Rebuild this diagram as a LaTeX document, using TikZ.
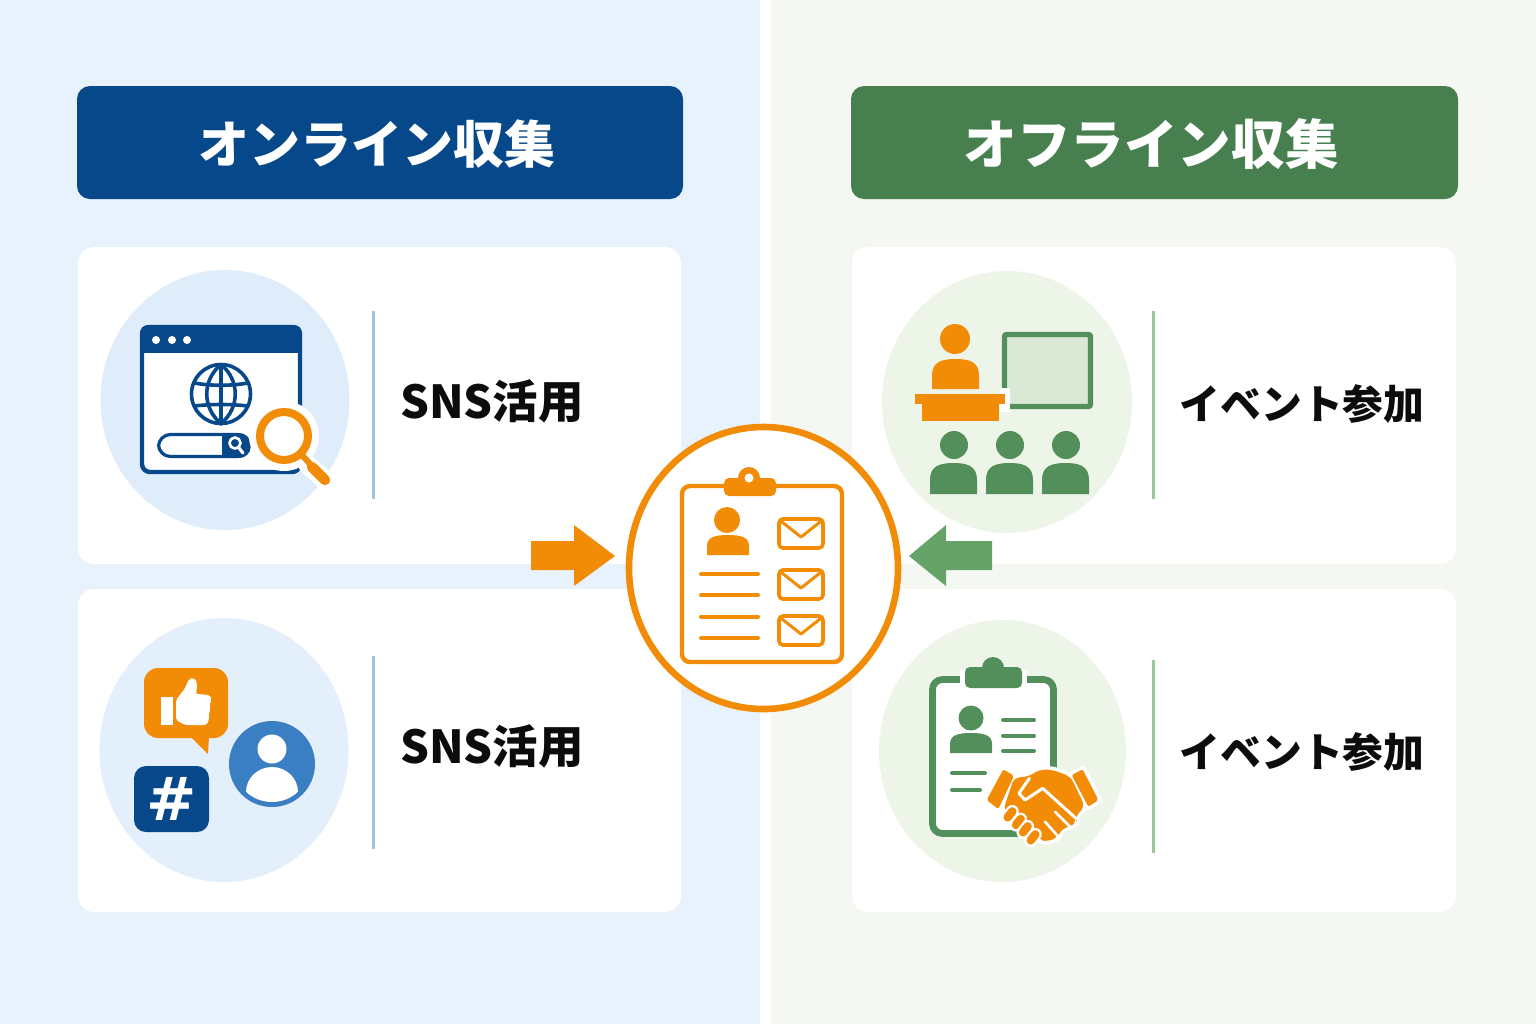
\documentclass[tikz,border=0pt]{standalone}
\usepackage{fontspec}
\setmainfont{Noto Sans CJK JP}
\newfontfamily\hashfont{DejaVu Sans}
\definecolor{panelL}{HTML}{E7F2FC}
\definecolor{panelR}{HTML}{F4F7F2}
\definecolor{navy}{HTML}{07488B}
\definecolor{forest}{HTML}{47804E}
\definecolor{orange1}{HTML}{F28C06}
\definecolor{iconG}{HTML}{528F5A}
\definecolor{arrowG}{HTML}{65A368}
\definecolor{midblue}{HTML}{3A7FC4}
\definecolor{discL}{HTML}{DFEDFA}
\definecolor{discL2}{HTML}{E3F0FB}
\definecolor{discR}{HTML}{EDF4E8}
\definecolor{board}{HTML}{DAE8D6}
\definecolor{ruleL}{HTML}{9DC3E6}
\definecolor{ruleR}{HTML}{9CC79D}
\definecolor{ink}{HTML}{0C0C0C}
\newcommand\dome[5]{\fill[#1] ({#2},{#5}) -- ({#2},{#4+0.55*(#5-#4)}) .. controls ({#2},{#4+0.1*(#5-#4)}) and ({#2+0.2*(#3-#2)},{#4}) .. ({0.5*(#2+#3)},{#4}) .. controls ({#3-0.2*(#3-#2)},{#4}) and ({#3},{#4+0.1*(#5-#4)}) .. ({#3},{#4+0.55*(#5-#4)}) -- ({#3},{#5}) -- cycle;}
\newcommand\envelope[2]{%
  \draw[envstroke] (779,{#1+2}) rectangle (823,{#2-2});
  \draw[envflap] (782,{#1+5}) -- (801,{#1+20}) -- (820,{#1+5});}
\tikzset{
  cardbox/.style={fill=white,rounded corners=8pt},
  headbox/.style={rounded corners=6.5pt},
  titletext/.style={text=white,font=\fontsize{#1}{30}\selectfont\bfseries},
  labeltext/.style={text=ink,font=\fontsize{22.7}{26}\selectfont\bfseries},
  labeltextb/.style={text=ink,font=\fontsize{20.4}{24}\selectfont\bfseries},
  ruleline/.style={line width=1.5pt},
  envstroke/.style={draw=orange1,line width=1.8pt,rounded corners=2pt,fill=white},
  envflap/.style={draw=orange1,line width=1.5pt,line cap=round,line join=round},
  listline/.style={draw=orange1,line width=2pt,line cap=round},
  gline/.style={draw=iconG,line width=2pt,line cap=round},
  zoomed/.style={shift={#1},x=0.16667pt,y=-0.16667pt},
  halo/.style={draw=white,line width=3.4pt,line join=round},
}
\begin{document}
\begin{tikzpicture}[x=0.5pt,y=-0.5pt]
\useasboundingbox (0,0) rectangle (1536,1024);
% panels
\fill[white] (0,0) rectangle (1536,1024);
\fill[panelL] (0,0) rectangle (760,1024);
\fill[panelR] (771,0) rectangle (1536,1024);
% headers
\fill[navy,headbox] (77,86) rectangle (683,199);
\fill[forest,headbox] (851,86) rectangle (1458,199);
\node[titletext=25.5] (titleL) at (377,144) {オンライン収集};
\node[titletext=26.8] (titleR) at (1151,144) {オフライン収集};
% cards
\fill[cardbox] (78,247) rectangle (681,564);
\fill[cardbox] (78,589) rectangle (681,912);
\fill[cardbox] (852,247) rectangle (1456,564);
\fill[cardbox] (852,589) rectangle (1456,912);
% rules
\draw[ruleline,ruleL] (373.5,311) -- (373.5,499);
\draw[ruleline,ruleL] (373.5,656) -- (373.5,849);
\draw[ruleline,ruleR] (1153,311) -- (1153,499);
\draw[ruleline,ruleR] (1153,660) -- (1153,853);
% labels
\node[labeltext] (sns1) at (492,401) {SNS活用};
\node[labeltext] (sns2) at (492,746) {SNS活用};
\node[labeltextb] (evt1) at (1302,404) {イベント参加};
\node[labeltextb] (evt2) at (1302,752) {イベント参加};
% discs
\fill[discL] (225,400) ellipse [x radius=124.5,y radius=130];
\fill[discL2] (224,750) ellipse [x radius=124.5,y radius=132];
\fill[discR] (1007,402) ellipse [x radius=125,y radius=131];
\fill[discR] (1002.5,751) ellipse [x radius=123.5,y radius=131];
%% browser
\draw[navy,fill=white,line width=2.2pt,rounded corners=4pt] (142,327) rectangle (300,472);
\fill[navy,rounded corners=4pt] (140,325) rectangle (302,340);
\fill[navy] (140,335) rectangle (302,353);
\foreach \dx in {156,172,187} \fill[white] (\dx,340) circle [radius=4];
\draw[navy,line width=1.8pt] (221,394) circle [radius=29.5];
\draw[navy,line width=1.8pt] (221,364.5) .. controls (202,380) and (202,408) .. (221,423.5) .. controls (240,408) and (240,380) .. (221,364.5);
\draw[navy,line width=1.8pt] (221,364.5) -- (221,423.5);
\draw[navy,line width=1.8pt] (194.5,383) .. controls (210,386) and (232,386) .. (247.5,383);
\draw[navy,line width=1.8pt] (194.5,406) .. controls (210,404) and (232,404) .. (247.5,406);
\draw[navy,line width=1.6pt,fill=white,rounded corners=6pt] (158.5,434.5) rectangle (249.5,456.5);
\begin{scope}
\clip[rounded corners=6pt] (157,433) rectangle (251,458);
\fill[navy] (222,433) rectangle (251,458);
\end{scope}
\draw[white,line width=1.3pt] (235,443) circle [radius=5.5];
\draw[white,line width=1.6pt,line cap=round] (239,448) -- (243,453);
% magnifier
\fill[white] (284,436) circle [radius=35];
\draw[white,line width=9.5pt,line cap=round] (308,465) -- (326,481);
\fill[white] (284,436) circle [radius=24];
\draw[orange1,line width=3pt,line cap=round] (302,455) -- (311,465);
\draw[orange1,line width=5.2pt,line cap=round] (312,467) -- (325,480);
\draw[orange1,line width=4pt] (284,436) circle [radius=24];
%% social
\fill[orange1,rounded corners=7pt] (144,668) rectangle (228,738);
\fill[orange1] (190,736) -- (208,754) -- (209,736) -- cycle;
\fill[white] (161,697) rectangle (173,725);
\begin{scope}[zoomed={(90,610)}]
\fill[white,rounded corners=1pt] (258,270) -- (285,235) -- (297,207) -- (312,203) -- (322,220) -- (318,252) -- (360,255) -- (365,270) -- (358,285) -- (362,297) -- (356,310) -- (358,325) -- (350,345) -- (285,345) -- (258,330) -- cycle;
\end{scope}
\fill[navy,rounded corners=6pt] (134,766) rectangle (209,832);
\node[text=white,font=\hashfont\fontsize{30}{32}\selectfont\bfseries,inner sep=0pt] (hash) at (172,799) {\#};
\fill[midblue] (272,764) circle [radius=43];
\fill[white] (272,749) circle [radius=14.5];
\begin{scope}
\clip (272,764) circle [radius=38];
\fill[white] (272,792) ellipse [x radius=26,y radius=25];
\end{scope}
%% seminar
\draw[iconG,fill=board,line width=2.6pt,rounded corners=1pt] (1004.5,334.5) rectangle (1090.5,406.5);
\fill[white] (1000,388) rectangle (1010,412);
\fill[orange1] (955,339) circle [radius=15];
\dome{orange1}{932}{979}{359}{389}
\fill[orange1] (915,394) rectangle (1005,404);
\fill[orange1] (922,404) rectangle (999,421);
\foreach \hx/\bl/\br in {954/930/977,1010/986/1033,1066/1042/1089}{
  \fill[iconG] (\hx,445) circle [radius=14];
  \dome{iconG}{\bl}{\br}{463}{494}
}
%% clipboard + handshake
\draw[iconG,fill=white,line width=3.4pt,rounded corners=5pt] (932.5,679.5) rectangle (1053.5,833.5);
\fill[white] (960,670) rectangle (1027,690);
\fill[iconG] (993,668) circle [radius=11];
\fill[iconG,rounded corners=2.5pt] (965,667) rectangle (1022,688);
\fill[iconG] (971,718) circle [radius=12.5];
\dome{iconG}{950}{992}{733}{753}
\draw[gline] (1003,720) -- (1034,720);
\draw[gline] (1003,735.5) -- (1034,735.5);
\draw[gline] (1003,751) -- (1034,751);
\draw[gline] (952,773) -- (985,773);
\draw[gline] (952,790) -- (980,790);
\begin{scope}[zoomed={(870,610)}]
\draw[halo] (400,478) -- (432,497) -- (385,597) -- (350,570) -- cycle;
\draw[halo] (638,478) -- (605,495) -- (655,590) -- (685,570) -- cycle;
\draw[halo] (432,503) -- (475,500) -- (510,478) -- (550,480) -- (602,500) -- (645,590) -- (615,620) -- (620,635) -- (600,650) -- (575,655) -- (565,680) -- (535,695) -- (510,690) -- (480,660) -- (400,600) -- cycle;
\foreach \fx/\fy in {420/613,445/636,466/658,489/682}{
  \draw[white,line width=6.4pt,line cap=round] (\fx+7,\fy-9) -- (\fx-7,\fy+9);
}
\fill[orange1,rounded corners=1pt] (400,478) -- (432,497) -- (385,597) -- (350,570) -- cycle;
\fill[orange1,rounded corners=1pt] (638,478) -- (605,495) -- (655,590) -- (685,570) -- cycle;
\fill[orange1,rounded corners=3pt] (432,503) -- (475,500) -- (510,478) -- (550,480) -- (602,500) -- (645,590) -- (615,620) -- (620,635) -- (600,650) -- (575,655) -- (565,680) -- (535,695) -- (510,690) -- (480,660) -- (400,600) -- cycle;
\draw[white,line width=1.5pt,line join=round,line cap=round] (478,505) -- (447,550) -- (465,570) -- (518,535) -- (618,625);
\draw[white,line width=1.3pt,line cap=round] (525,635) -- (565,680);
\draw[white,line width=1.3pt,line cap=round] (555,605) -- (600,650);
\foreach \fx/\fy in {420/613,445/636,466/658,489/682}{
  \draw[white,line width=6.4pt,line cap=round] (\fx+7,\fy-9) -- (\fx-7,\fy+9);
  \draw[orange1,line width=4.2pt,line cap=round] (\fx+7,\fy-9) -- (\fx-7,\fy+9);
}
\end{scope}
%% arrows
\fill[orange1] (531,541) -- (574,541) -- (574,525) -- (615,556) -- (574,586) -- (574,570) -- (531,570) -- cycle;
\fill[arrowG] (992,541) -- (946,541) -- (946,525) -- (909,556) -- (946,586) -- (946,570) -- (992,570) -- cycle;
%% centre
\draw[orange1,fill=white,line width=3.3pt] (763.5,568) ellipse [x radius=134.5,y radius=141];
\draw[orange1,line width=2.2pt,rounded corners=4pt] (682,486) rectangle (842,662);
\fill[orange1] (749,478) circle [radius=11];
\fill[orange1,rounded corners=2.5pt] (724,478) rectangle (776,496);
\fill[white] (749,478) circle [radius=4.5];
\fill[orange1] (727,520) circle [radius=13];
\dome{orange1}{707}{749}{535}{555}
\draw[listline] (701,574) -- (758,574);
\draw[listline] (701,595) -- (758,595);
\draw[listline] (701,616.5) -- (758,616.5);
\draw[listline] (701,638) -- (758,638);
\envelope{517}{550}
\envelope{568}{601}
\envelope{614}{647}
\end{tikzpicture}
\end{document}
